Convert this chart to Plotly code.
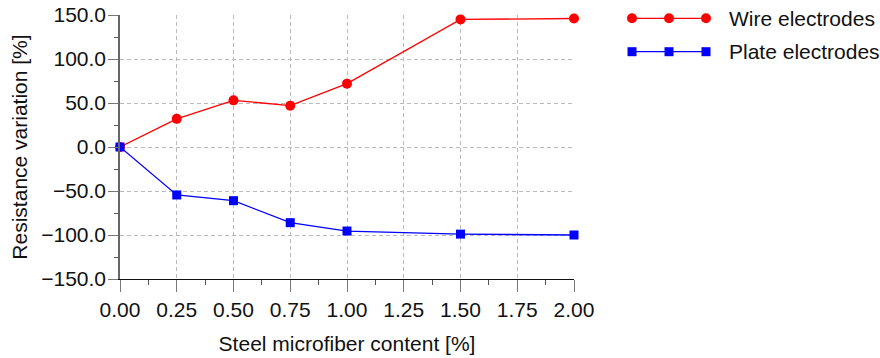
import plotly.graph_objects as go

# Steel microfiber content [%]
fiber_content = [0.00, 0.25, 0.50, 0.75, 1.00, 1.50, 2.00]
# Resistance variation [%]
wire_variation = [0.0, 32.0, 53.0, 47.0, 72.0, 145.0, 146.0]
plate_variation = [0.0, -54.5, -61.0, -86.0, -95.5, -99.0, -100.0]

series_names = ["Wire electrodes", "Plate electrodes"]
series_colors = ["#ff0000", "#0000ff"]
series_symbols = ["circle", "square"]

FONT = "Liberation Sans, Arial, sans-serif"
FS = 21
W, H = 880, 358
ML, MR, MT, MB = 120, 306, 15, 79
PW, PH = W - ML - MR, H - MT - MB
GRID_DASH = "4px,3px"

fig = go.Figure()
for name, vals, col, sym in zip(series_names, [wire_variation, plate_variation],
                                series_colors, series_symbols):
    fig.add_trace(go.Scatter(
        x=fiber_content, y=vals, name=name, mode="lines+markers",
        line=dict(color=col, width=1.3),
        marker=dict(symbol=sym, color=col, size=10 if sym == "circle" else 9,
                    line=dict(width=0)),
        cliponaxis=False, showlegend=False,
    ))


def px_to_paper(px, py):
    return (px - ML) / PW, (H - MB - py) / PH


# Legend drawn as a three-marker sample line plus label
shapes, annotations = [], []
legend_rows = [18.3, 51.7]
for name, col, sym, py in zip(series_names, series_colors, series_symbols, legend_rows):
    xa, ya = px_to_paper(632, py)
    xb, _ = px_to_paper(706, py)
    shapes.append(dict(type="line", xref="paper", yref="paper",
                       x0=xa, x1=xb, y0=ya, y1=ya,
                       line=dict(color=col, width=1.3)))
    for mx in (632, 669, 706):
        xm, ym = px_to_paper(mx, py)
        r = 5 if sym == "circle" else 4.5
        shapes.append(dict(type="circle" if sym == "circle" else "rect",
                           xref="paper", yref="paper",
                           xsizemode="pixel", ysizemode="pixel",
                           xanchor=xm, yanchor=ym,
                           x0=-r, x1=r, y0=-r, y1=r,
                           fillcolor=col, line=dict(width=0)))
    xt, yt = px_to_paper(727, py)
    annotations.append(dict(text=name, xref="paper", yref="paper", x=xt, y=yt,
                            xanchor="left", yanchor="middle", showarrow=False,
                            font=dict(family=FONT, size=FS, color="#111")))

fig.update_layout(
    width=W, height=H,
    margin=dict(l=ML, r=MR, t=MT, b=MB, pad=0),
    paper_bgcolor="white", plot_bgcolor="white",
    font=dict(family=FONT, size=FS, color="#111"),
    shapes=shapes, annotations=annotations,
    showlegend=False,
)
fig.update_xaxes(
    range=[0, 2], dtick=0.25, tick0=0, tickformat=".2f",
    showline=True, linecolor="#111", linewidth=1.3,
    ticks="outside", ticklen=12, tickcolor="#777", tickwidth=1.3,
    showgrid=True, gridcolor="#bbbbbb", griddash=GRID_DASH, gridwidth=1,
    minor=dict(dtick=0.125, ticks="outside", ticklen=5, tickcolor="#555", showgrid=False),
    zeroline=False, automargin=False,
    title=dict(text="Steel microfiber content [%]", font=dict(size=FS), standoff=15),
    tickfont=dict(size=FS),
)
fig.update_yaxes(
    range=[-150, 150], dtick=50, tick0=0, tickformat=".1f",
    showline=True, linecolor="#666", linewidth=1.5,
    ticks="outside", ticklen=10, tickcolor="#777", tickwidth=1.3,
    showgrid=True, gridcolor="#bbbbbb", griddash=GRID_DASH, gridwidth=1,
    minor=dict(dtick=25, ticks="outside", ticklen=4, tickcolor="#555", showgrid=False),
    zeroline=False, automargin=False, ticklabelstandoff=-2,
    title=dict(text="Resistance variation [%]", font=dict(size=FS), standoff=8),
    tickfont=dict(size=FS),
)

fig.write_html("out.html")
